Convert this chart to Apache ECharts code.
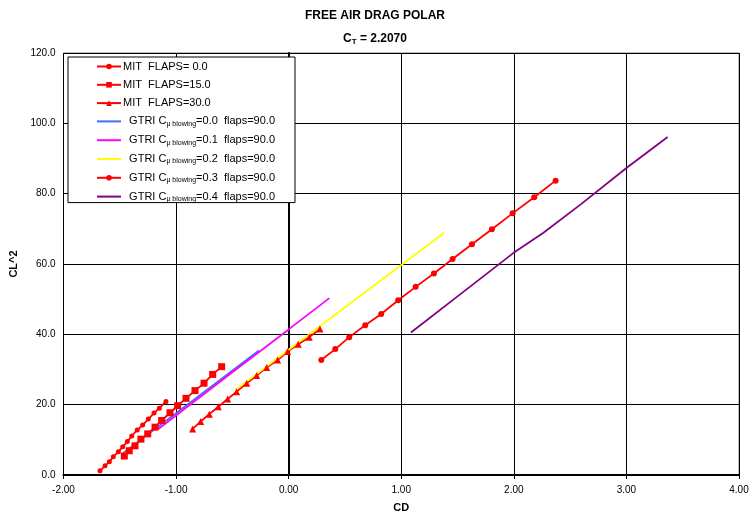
<!DOCTYPE html>
<html>
<head>
<meta charset="utf-8">
<script src="https://cdn.jsdelivr.net/npm/echarts@6/dist/echarts.min.js"></script>
<style>
  html, body { margin: 0; padding: 0; background: #fff; }
  #chart { width: 750px; height: 512px; }
</style>
</head>
<body>
<div id="chart"></div>
<script>
// values, [CD, CL^2]
const mitFlaps0 = [[-1.676, 1.2], [-1.631, 2.6], [-1.593, 3.8], [-1.558, 5.2], [-1.513, 6.6], [-1.474, 8.0],
  [-1.433, 9.5], [-1.394, 11.1], [-1.345, 12.8], [-1.297, 14.2], [-1.247, 15.9], [-1.196, 17.6], [-1.149, 19.0], [-1.090, 20.9]]
const mitFlaps15 = [[-1.46, 5.4], [-1.416, 6.9], [-1.365, 8.3], [-1.312, 10.2], [-1.252, 11.7], [-1.187, 13.6], [-1.128, 15.5],
  [-1.054, 17.7], [-0.986, 19.7], [-0.912, 21.8], [-0.832, 24.0], [-0.752, 26.1], [-0.675, 28.6], [-0.595, 30.8]]
const mitFlaps30 = [[-0.853, 13.1], [-0.782, 15.2], [-0.705, 17.3], [-0.625, 19.4], [-0.542, 21.6], [-0.462, 23.7], [-0.373, 26.1],
  [-0.284, 28.3], [-0.195, 30.6], [-0.098, 32.7], [-0.009, 35.1], [0.085, 37.2], [0.183, 39.2], [0.278, 41.5]]
const gtriBlow00 = [[-1.469, 6.3], [-0.9, 20.0], [-0.264, 35.4]]
const gtriBlow01 = [[-1.16, 13.0], [-0.5, 29.2], [0.0, 41.4], [0.361, 50.3]]
const gtriBlow02 = [[-0.48, 24.0], [0.0, 35.6], [1.0, 59.7], [1.382, 68.9]]
const gtriBlow03 = [[0.29, 32.7], [0.414, 35.8], [0.538, 39.2], [0.68, 42.6], [0.822, 45.8], [0.973, 49.7], [1.128, 53.5],
  [1.29, 57.3], [1.456, 61.4], [1.628, 65.6], [1.805, 69.9], [1.989, 74.4], [2.181, 79.0], [2.371, 83.7]]
const gtriBlow04 = [[1.086, 40.5], [1.5, 50.8], [1.995, 63.1], [2.26, 68.8], [2.6, 77.1], [3.0, 87.3], [3.366, 96.1]]

const seriesNames = ['MIT  FLAPS= 0.0', 'MIT  FLAPS=15.0', 'MIT  FLAPS=30.0',
  'GTRI 0.0', 'GTRI 0.1', 'GTRI 0.2', 'GTRI 0.3', 'GTRI 0.4']
const blowing = { 'GTRI 0.0': '0.0', 'GTRI 0.1': '0.1', 'GTRI 0.2': '0.2', 'GTRI 0.3': '0.3', 'GTRI 0.4': '0.4' }
const noMarker = ['GTRI 0.0', 'GTRI 0.1', 'GTRI 0.2', 'GTRI 0.4']

const chart = echarts.init(document.getElementById('chart'))

const font = 'Liberation Sans, Arial, sans-serif'

function lineSeries(name, data, color, symbol, size) {
  return {
    name: name,
    type: 'line',
    data: data,
    color: color,
    symbol: symbol,
    symbolSize: size,
    showSymbol: symbol !== 'none',
    lineStyle: { color: color, width: 1.8 },
    itemStyle: { color: color },
    animation: false
  }
}

chart.setOption({
  title: [{
    text: 'FREE AIR DRAG POLAR',
    left: 'center',
    top: 5,
    textStyle: { fontFamily: font, fontSize: 12, fontWeight: 'bold', color: '#000' }
  }, {
    text: 'C{sub|T} = 2.2070',
    left: 'center',
    top: 27,
    textStyle: {
      fontFamily: font, fontSize: 12, fontWeight: 'bold', color: '#000',
      rich: { sub: { fontFamily: font, fontSize: 8, fontWeight: 'bold', verticalAlign: 'bottom', padding: [6, 0, 0, 0] } }
    }
  }],
  legend: {
    data: seriesNames.map(n => noMarker.includes(n) ? { name: n, itemStyle: { opacity: 0 } } : n),
    orient: 'vertical',
    left: 68,
    top: 57,
    padding: [4, 20, 0, 28],
    itemGap: 7.3,
    itemWidth: 24,
    itemHeight: 7,
    backgroundColor: '#fff',
    borderColor: '#000',
    borderWidth: 1,
    borderRadius: 0,
    formatter: function (name) {
      if (blowing[name]) {
        return '  GTRI C{sub|\u03bc blowing}=' + blowing[name] + '  flaps=90.0'
      }
      return name
    },
    textStyle: {
      fontFamily: font, fontSize: 11, color: '#000', padding: [0, 0, 0, -3],
      rich: { sub: { fontFamily: font, fontSize: 7, color: '#000', verticalAlign: 'bottom', padding: [5, 0, 0, 0] } }
    }
  },
  grid: {
    left: 63.5,
    right: 11,
    top: 53,
    bottom: 37,
    outerBoundsMode: 'none',
    show: true,
    borderColor: '#808080',
    borderWidth: 1
  },
  xAxis: {
    type: 'value',
    min: -2,
    max: 4,
    interval: 1,
    name: 'CD',
    nameLocation: 'middle',
    nameGap: 27,
    nameTextStyle: { fontFamily: font, fontSize: 11, fontWeight: 'bold', color: '#000' },
    axisLine: { onZero: false, lineStyle: { color: '#000', width: 2 } },
    axisTick: { show: true, length: 4, lineStyle: { color: '#000' } },
    axisLabel: {
      fontFamily: font, fontSize: 10, color: '#000', margin: 10,
      formatter: v => v.toFixed(2)
    },
    splitLine: { show: true, lineStyle: { color: '#000', width: 1 } }
  },
  yAxis: [{
    type: 'value',
    min: 0,
    max: 120,
    interval: 20,
    name: 'CL^2',
    nameLocation: 'middle',
    nameGap: 41,
    nameTextStyle: { fontFamily: font, fontSize: 11, fontWeight: 'bold', color: '#000' },
    axisLine: { show: false },
    axisTick: { show: false },
    axisLabel: {
      fontFamily: font, fontSize: 10, color: '#000', margin: 8,
      formatter: v => v.toFixed(1)
    },
    splitLine: { show: true, lineStyle: { color: '#000', width: 1 } }
  }, {
    // vertical axis line crossing at CD = 0
    type: 'value',
    position: 'left',
    offset: -225.2,
    min: 0,
    max: 120,
    interval: 20,
    axisLine: { show: true, onZero: false, lineStyle: { color: '#000', width: 2 } },
    axisTick: { show: true, inside: false, length: 4, lineStyle: { color: '#000' } },
    axisLabel: { show: false },
    splitLine: { show: false }
  }],
  series: [
    lineSeries(seriesNames[0], mitFlaps0, '#ff0000', 'circle', 5),
    lineSeries(seriesNames[1], mitFlaps15, '#ff0000', 'rect', 7),
    lineSeries(seriesNames[2], mitFlaps30, '#ff0000', 'triangle', 7),
    lineSeries(seriesNames[3], gtriBlow00, '#3f6ff0', 'none', 0),
    lineSeries(seriesNames[4], gtriBlow01, '#ff00ff', 'none', 0),
    lineSeries(seriesNames[5], gtriBlow02, '#ffff00', 'none', 0),
    lineSeries(seriesNames[6], gtriBlow03, '#ff0000', 'circle', 6),
    lineSeries(seriesNames[7], gtriBlow04, '#800080', 'none', 0)
  ]
})
</script>
</body>
</html>
